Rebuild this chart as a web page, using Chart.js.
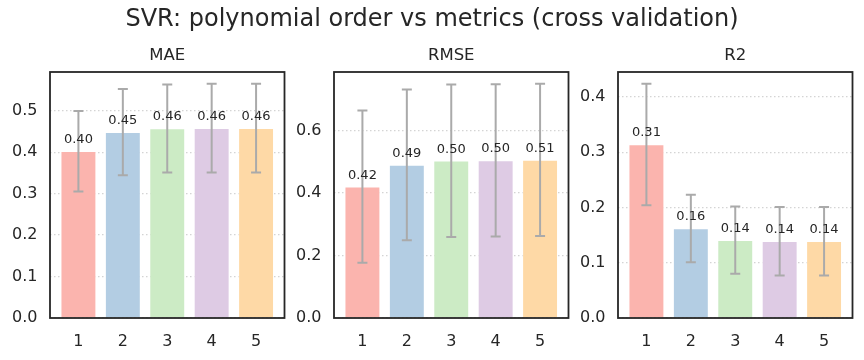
<!DOCTYPE html>
<html><head><meta charset="utf-8">
<script src="https://cdn.jsdelivr.net/npm/chart.js@4"></script>
<style>
html,body{margin:0;padding:0;background:#fff;}
#wrap{position:relative;width:864px;height:360px;background:#fff;}
canvas{position:absolute;left:0;top:0;}
</style></head><body>
<div id="wrap">
<canvas id="c0" width="864" height="360"></canvas>
<canvas id="c1" width="864" height="360"></canvas>
<canvas id="c2" width="864" height="360"></canvas>
</div>
<script>
const mainTitle = 'SVR: polynomial order vs metrics (cross validation)';
const metricNames = ['MAE', 'RMSE', 'R2'];
const orders = [1, 2, 3, 4, 5];
const maeMean = [0.402, 0.448, 0.457, 0.458, 0.458];
const maeStd = [0.097, 0.104, 0.106, 0.107, 0.107];
const rmseMean = [0.420, 0.490, 0.503, 0.504, 0.506];
const rmseStd = [0.2435, 0.241, 0.244, 0.2435, 0.2435];
const r2Mean = [0.314, 0.162, 0.141, 0.139, 0.139];
const r2Std = [0.110, 0.061, 0.061, 0.062, 0.062];
const maeTicks = [0, 0.1, 0.2, 0.3, 0.4, 0.5];
const rmseTicks = [0, 0.2, 0.4, 0.6];
const r2Ticks = [0, 0.1, 0.2, 0.3, 0.4];
const barColors = ['#fbb4ae', '#b3cde3', '#ccebc5', '#decbe4', '#fed9a6'];

const FONT = '"DejaVu Sans", sans-serif';
const TXT = '#262626';
const W = 864, H = 360;
const panelLeft = [50, 334, 618];
const panelWidth = 234.5;
const plotTop = 72, plotBottom = 318;

function makePlugin(mean, std, title, drawMain) {
  return {
    id: 'panel' + title,
    afterDatasetsDraw(chart) {
      const {ctx, scales: {x, y}} = chart;
      ctx.save();
      ctx.strokeStyle = '#aaaaaa';
      ctx.lineWidth = 2;
      mean.forEach((m, i) => {
        const px = x.getPixelForValue(orders[i]);
        const t = y.getPixelForValue(m + std[i]);
        const b = y.getPixelForValue(m - std[i]);
        ctx.beginPath();
        ctx.moveTo(px, t); ctx.lineTo(px, b);
        ctx.moveTo(px - 5, t); ctx.lineTo(px + 5, t);
        ctx.moveTo(px - 5, b); ctx.lineTo(px + 5, b);
        ctx.stroke();
      });
      ctx.fillStyle = TXT;
      ctx.font = '13px ' + FONT;
      ctx.textAlign = 'center';
      ctx.textBaseline = 'alphabetic';
      mean.forEach((m, i) => {
        ctx.fillText(m.toFixed(2), x.getPixelForValue(orders[i]), y.getPixelForValue(m) - 8);
      });
      ctx.restore();
    },
    afterDraw(chart) {
      const {ctx, chartArea: a} = chart;
      ctx.save();
      ctx.strokeStyle = TXT;
      ctx.lineWidth = 1.8;
      ctx.strokeRect(a.left, a.top, a.right - a.left, a.bottom - a.top);
      ctx.fillStyle = TXT;
      ctx.textAlign = 'center';
      ctx.textBaseline = 'alphabetic';
      ctx.font = '16.5px ' + FONT;
      ctx.fillText(title, (a.left + a.right) / 2, 60);
      if (drawMain) {
        ctx.font = '24px ' + FONT;
        ctx.fillText(mainTitle, W / 2, 26);
      }
      ctx.restore();
    }
  };
}

function makeChart(id, idx, mean, std, ticks) {
  const lo = Math.min(...orders) - 0.4, hi = Math.max(...orders) + 0.4;
  const xm = 0.05 * (hi - lo);
  const yMax = Math.max(...mean.map((m, i) => m + std[i])) * 1.05;
  const L = panelLeft[idx], R = L + panelWidth;
  return new Chart(document.getElementById(id), {
    type: 'bar',
    data: {
      datasets: [{
        data: orders.map((o, i) => ({x: o, y: mean[i]})),
        backgroundColor: barColors,
        borderColor: '#ffffff',
        borderWidth: 0.8,
        barPercentage: 0.8,
        categoryPercentage: 1.0
      }]
    },
    options: {
      responsive: false,
      animation: false,
      events: [],
      layout: {padding: {left: L - 40, right: W - R, top: plotTop, bottom: 0}},
      plugins: {legend: {display: false}, tooltip: {enabled: false}, title: {display: false}},
      scales: {
        x: {
          type: 'linear', min: lo - xm, max: hi + xm, offset: false,
          afterBuildTicks: s => { s.ticks = orders.map(v => ({value: v})); },
          afterFit: s => { s.height = H - plotBottom; },
          grid: {display: false, drawTicks: false, offset: false},
          border: {display: false},
          ticks: {color: TXT, font: {family: FONT, size: 16}, padding: 14, maxRotation: 0,
                  callback: v => String(v)}
        },
        y: {
          type: 'linear', min: 0, max: yMax,
          afterBuildTicks: s => { s.ticks = ticks.map(v => ({value: v})); },
          afterFit: s => { s.width = 40; },
          grid: {color: '#d4d4d4', lineWidth: 1.2, drawTicks: false},
          border: {display: false, dash: [1.5, 2.5]},
          ticks: {color: TXT, font: {family: FONT, size: 16}, padding: 12.5,
                  callback: v => v.toFixed(1)}
        }
      }
    },
    plugins: [makePlugin(mean, std, metricNames[idx], idx === 0)]
  });
}

makeChart('c0', 0, maeMean, maeStd, maeTicks);
makeChart('c1', 1, rmseMean, rmseStd, rmseTicks);
makeChart('c2', 2, r2Mean, r2Std, r2Ticks);
</script>
</body></html>
